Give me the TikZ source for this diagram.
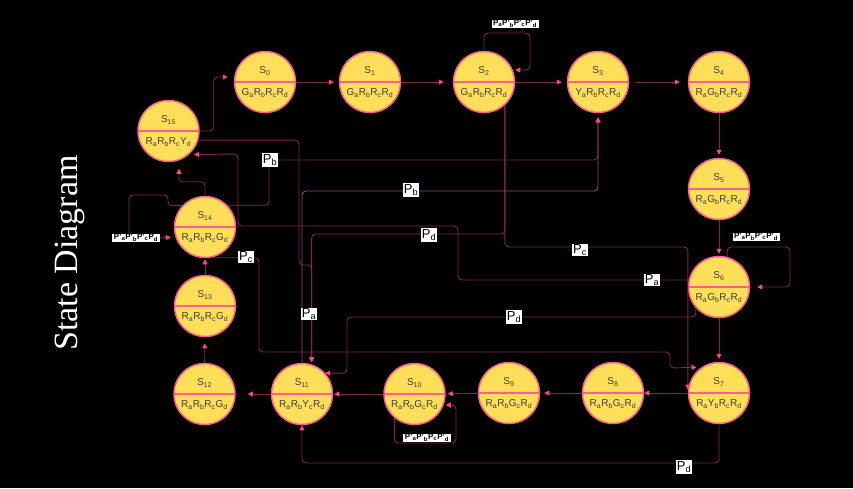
\documentclass[tikz,border=0pt]{standalone}
\usepackage{fontspec}
\setmainfont{Liberation Sans}
\newfontfamily\titlefont{Liberation Serif}
\usetikzlibrary{arrows.meta, calc}
\definecolor{stateyellow}{RGB}{255,222,89}
\definecolor{statepink}{RGB}{255,92,143}
\definecolor{linkred}{RGB}{130,38,80}
\definecolor{linkpurple}{RGB}{165,60,140}
\definecolor{tippink}{RGB}{255,70,130}
\definecolor{statetext}{RGB}{60,60,60}
\newcommand{\sbs}[1]{\textsubscript{#1}}

\tikzset{
  state/.style={circle, minimum size=61pt, inner sep=0pt, fill=stateyellow,
    draw=statepink, line width=1.5pt, text=statetext, align=center,
    font=\fontsize{10}{22}\selectfont,
    path picture={\draw[statepink, line width=2.5pt]
      (path picture bounding box.west) -- (path picture bounding box.east);}},
  wire/.style={draw=linkred, line width=0.9pt, rounded corners=4pt},
  link/.style={wire, -{Triangle[length=5pt, width=5pt, color=tippink]}},
  plabel/.style={fill=white, text=black, inner sep=1pt, font=\fontsize{13}{13}\selectfont},
  looplabel/.style={fill=white, text=black, inner xsep=1.5pt, inner ysep=0.5pt,
    font=\bfseries\fontsize{8}{8}\selectfont}
}

\begin{document}
\begin{tikzpicture}[x=1pt, y=-1pt]
  \path[use as bounding box, fill=black] (0,0) rectangle (853,488);
  % Title
  \node[rotate=90, text=white, font=\titlefont\fontsize{34}{40}\selectfont] (title) at (70,253) {State Diagram};
  % Top row
  \node[state] (S0) at (265,82) {S\sbs{0}\\G\sbs{a}R\sbs{b}R\sbs{c}R\sbs{d}};
  \node[state] (S1) at (370,82) {S\sbs{1}\\G\sbs{a}R\sbs{b}R\sbs{c}R\sbs{d}};
  \node[state] (S2) at (484,82) {S\sbs{2}\\G\sbs{a}R\sbs{b}R\sbs{c}R\sbs{d}};
  \node[state] (S3) at (598,82) {S\sbs{3}\\Y\sbs{a}R\sbs{b}R\sbs{c}R\sbs{d}};
  \node[state] (S4) at (719,82) {S\sbs{4}\\R\sbs{a}G\sbs{b}R\sbs{c}R\sbs{d}};
  % Right column
  \node[state] (S5) at (719,189) {S\sbs{5}\\R\sbs{a}G\sbs{b}R\sbs{c}R\sbs{d}};
  \node[state] (S6) at (719,287) {S\sbs{6}\\R\sbs{a}G\sbs{b}R\sbs{c}R\sbs{d}};
  \node[state] (S7) at (719,393) {S\sbs{7}\\R\sbs{a}Y\sbs{b}R\sbs{c}R\sbs{d}};
  % Bottom row
  \node[state] (S8) at (613,393) {S\sbs{8}\\R\sbs{a}R\sbs{b}G\sbs{c}R\sbs{d}};
  \node[state] (S9) at (509,393) {S\sbs{9}\\R\sbs{a}R\sbs{b}G\sbs{c}R\sbs{d}};
  \node[state] (S10) at (414.5,394) {S\sbs{10}\\R\sbs{a}R\sbs{b}G\sbs{c}R\sbs{d}};
  \node[state] (S11) at (302,394) {S\sbs{11}\\R\sbs{a}R\sbs{b}Y\sbs{c}R\sbs{d}};
  \node[state] (S12) at (204.5,394) {S\sbs{12}\\R\sbs{a}R\sbs{b}R\sbs{c}G\sbs{d}};
  % Left column
  \node[state] (S13) at (205,306) {S\sbs{13}\\R\sbs{a}R\sbs{b}R\sbs{c}G\sbs{d}};
  \node[state] (S14) at (205,227) {S\sbs{14}\\R\sbs{a}R\sbs{b}R\sbs{c}G\sbs{d}};
  \node[state] (S15) at (168.5,131) {S\sbs{15}\\R\sbs{a}R\sbs{b}R\sbs{c}Y\sbs{d}};

  % Main cycle
  \draw[link, shorten >=6pt] (S15.east) -- ++(14,0) |- ([yshift=5pt]S0.west);
  \draw[link, shorten >=5pt] (S0) -- (S1);
  \draw[link, shorten >=9pt] (S1) -- (S2);
  \draw[link, shorten >=5pt] (S2) -- (S3);
  \draw[link, shorten <=6pt, shorten >=8pt] (S3) -- (S4);
  \draw[link, shorten >=3pt] (S4) -- (S5);
  \draw[link, shorten >=2pt] (S5) -- (S6);
  \draw[link, shorten >=3pt] (S6) -- (S7);
  \draw[link] (S7) -- (S8);
  \draw[link, shorten >=4pt] (S8) -- (S9);
  \draw[link, shorten >=2pt] (S9) -- (S10);
  \draw[link, shorten >=1pt] (S10) -- (S11);
  \draw[link, shorten >=12pt] (S11) -- (S12);
  \draw[link, shorten >=6pt] (S12) -- (S13);
  \draw[link, shorten >=1pt] (S13) -- (S14);
  \draw[link, shorten >=6.5pt] (S14.north) -- ++(0,-14) -| ([xshift=10.5pt]S15.south);

  % Self loops
  \draw[link] (S2.north) |- (530,33) |- ([yshift=12pt]S2.east);
  \draw[link, shorten >=7pt] (S6.75) |- (790,247) |- (S6.east);
  \draw[link] (S10.230) |- (456,443) |- ([yshift=-11pt]S10.east);
  \node[looplabel] (loop2) at (515,24) {P\sbs{a}P'\sbs{b}P'\sbs{c}P'\sbs{d}};
  \node[looplabel] (loop6) at (756,237) {P'\sbs{a}P\sbs{b}P'\sbs{c}P'\sbs{d}};
  \node[looplabel] (loop10) at (427,438) {P'\sbs{a}P'\sbs{b}P\sbs{c}P'\sbs{d}};
  \node[looplabel] (loop14) at (136,238) {P'\sbs{a}P'\sbs{b}P'\sbs{c}P\sbs{d}};
  \draw[wire] (S14.137) -| (168,195) -| ([xshift=-7pt]loop14.north);
  \draw[link, shorten >=3pt] (loop14.east) -- ([yshift=-10pt]S14.west);

  % Long transitions
  \draw[link, shorten >=2pt] (S15.-17) -| (299,265) -| (S11.72);
  \draw[link, shorten >=2pt] (S2.-48) |- (S11.72 |- 0,234) -- (S11.72);
  \draw[link] (S2.-48) |- (S7.174 |- 0,247) -- (S7.174);
  \draw[link, shorten >=5pt] (S6.167) -| (458,226) -| (238,154) -- (S15.-49);
  \draw[link, shorten >=4pt] (S14.44) -| (269,160) -| (S3.south);
  \draw[link, draw=linkpurple, shorten >=4pt] (S11.north) |- (S3.south |- 0,191) -- (S3.south);
  \draw[link] (S6.222) |- (347,317) |- (S11.42);
  \draw[link, shorten >=5pt] (S14.-80) -| (259,352) -| (670,368) -- (S7.124);
  \draw[link] (S7.south) |- (S11.south |- 0,463) -- (S11.south);

  % Input labels
  \node[plabel] (pb1) at (270,160) {P\sbs{b}};
  \node[plabel] (pb2) at (411,190) {P\sbs{b}};
  \node[plabel] (pd1) at (429,235) {P\sbs{d}};
  \node[plabel] (pc1) at (580,250) {P\sbs{c}};
  \node[plabel] (pa1) at (652,280) {P\sbs{a}};
  \node[plabel] (pd2) at (514,317) {P\sbs{d}};
  \node[plabel] (pa2) at (309,314) {P\sbs{a}};
  \node[plabel] (pc2) at (246,257) {P\sbs{c}};
  \node[plabel] (pd3) at (684,467) {P\sbs{d}};
\end{tikzpicture}
\end{document}
